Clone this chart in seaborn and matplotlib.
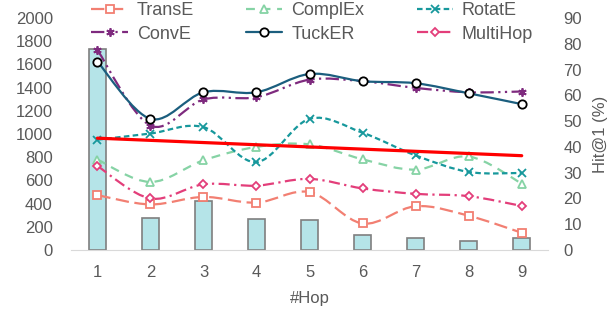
import matplotlib
matplotlib.use("Agg")
import matplotlib.pyplot as plt
from matplotlib.path import Path
from matplotlib.patches import PathPatch
from matplotlib.lines import Line2D
import numpy as np
import pandas as pd
import seaborn as sns

# data
hops = [1, 2, 3, 4, 5, 6, 7, 8, 9]
counts = [1730, 278, 422, 267, 259, 129, 106, 78, 101]

transe = [21.3, 17.7, 20.6, 18.4, 22.5, 10.3, 17.0, 13.3, 6.7]
complex_ = [35.1, 26.4, 34.8, 40.0, 41.0, 35.2, 31.2, 36.3, 25.8]
rotate = [42.8, 45.2, 47.7, 34.1, 50.9, 45.5, 36.7, 30.3, 29.9]
conve = [77.6, 48.3, 58.4, 59.3, 66.1, 65.5, 62.9, 61.2, 61.5]
tucker = [73.1, 50.9, 61.2, 61.2, 68.3, 65.5, 64.7, 60.8, 56.6]
multihop = [32.6, 20.0, 25.5, 25.0, 27.6, 23.9, 21.8, 20.9, 17.1]

trend_x = [1, 9]
trend_y = [43.4, 36.6]

GRAY = "#595959"

sns.set_style("white")
plt.rcParams["font.family"] = ["Liberation Sans", "DejaVu Sans"]
plt.rcParams["font.size"] = 12


def smooth_path(xs, ys):
    # Excel-like smoothed line drawn as cubic bezier segments
    pts = list(zip(xs, ys))
    verts = [pts[0]]
    codes = [Path.MOVETO]
    n = len(pts)
    for i in range(n - 1):
        p0 = np.array(pts[max(i - 1, 0)])
        p1 = np.array(pts[i])
        p2 = np.array(pts[i + 1])
        p3 = np.array(pts[min(i + 2, n - 1)])
        c1 = p1 + (p2 - p0) / 6.0
        c2 = p2 - (p3 - p1) / 6.0
        verts += [tuple(c1), tuple(c2), tuple(p2)]
        codes += [Path.CURVE4] * 3
    return Path(verts, codes)


series = [
    ("TransE", transe, "#F27F72", (0, (6, 2.5)), "s", "#F27F72"),
    ("ComplEx", complex_, "#86D3A5", (0, (4, 3)), "^", "#86D3A5"),
    ("RotatE", rotate, "#17989C", (0, (2.5, 1.5)), "x", "#17989C"),
    ("ConvE", conve, "#7E2A7E", (0, (6, 2, 1, 2, 1, 2)), (6, 2, 0), "#7E2A7E"),
    ("TuckER", tucker, "#1B5E7E", "solid", "o", "black"),
    ("MultiHop", multihop, "#E33E7A", (0, (5, 2, 1, 2)), "D", "#E33E7A"),
]

fig = plt.figure(figsize=(6.16, 3.11), dpi=100)
ax = fig.add_axes([0.115, 0.196, 0.775, 0.746])

df = pd.DataFrame({"hop": hops, "count": counts})
sns.barplot(data=df, x="hop", y="count", native_scale=True, width=0.32,
            color="#B5E4E8", edgecolor="#7F7F7F", linewidth=1.2,
            saturation=1, ax=ax)

ax.set_xlim(0.5, 9.5)
ax.set_ylim(0, 2000)
ax.set_yticks(range(0, 2001, 200))
ax.set_xticks(hops)
ax.set_xlabel("#Hop", color=GRAY, fontsize=12, labelpad=8)
ax.set_ylabel("")
for s in ["top", "left", "right"]:
    ax.spines[s].set_visible(False)
ax.spines["bottom"].set_color("#D9D9D9")
ax.tick_params(axis="both", colors=GRAY, labelsize=12, length=0)
ax.tick_params(axis="x", pad=11)
ax.tick_params(axis="y", pad=13)

ax2 = ax.twinx()
ax2.set_ylim(0, 90)
ax2.set_yticks(range(0, 91, 10))
ax2.set_ylabel("Hit@1 (%)", color=GRAY, fontsize=12, labelpad=8)
for s in ["top", "left", "right", "bottom"]:
    ax2.spines[s].set_visible(False)
ax2.tick_params(axis="y", colors=GRAY, labelsize=12, length=0, pad=11)

handles = {}
for name, vals, color, ls, marker, mec in series:
    patch = PathPatch(smooth_path(hops, vals), facecolor="none", edgecolor=color,
                      linewidth=1.6, linestyle=ls, capstyle="butt")
    ax2.add_patch(patch)
    ms = 6 if marker != "D" else 4.5
    ax2.plot(hops, vals, linestyle="none", marker=marker, markersize=ms,
             markerfacecolor="white" if marker not in ("x", (6, 2, 0)) else color,
             markeredgecolor=mec, markeredgewidth=1.3, zorder=4)
    handles[name] = Line2D([], [], color=color, linestyle=ls, linewidth=1.6,
                           marker=marker, markersize=ms,
                           markerfacecolor="white", markeredgecolor=mec,
                           markeredgewidth=1.3, label=name)

ax2.plot(trend_x, trend_y, color="#FF0000", linewidth=2.3, zorder=5)

# legend fills column by column, so order for row-major look
order = ["TransE", "ConvE", "ComplEx", "TuckER", "RotatE", "MultiHop"]
fig.legend(handles=[handles[k] for k in order], ncol=3, loc="upper center",
           bbox_to_anchor=(0.507, 1.045), frameon=False, fontsize=13,
           labelcolor=GRAY, handlelength=2.0, handletextpad=0.5,
           columnspacing=2.9, labelspacing=0.35)

fig.savefig("out.png", dpi=100)
